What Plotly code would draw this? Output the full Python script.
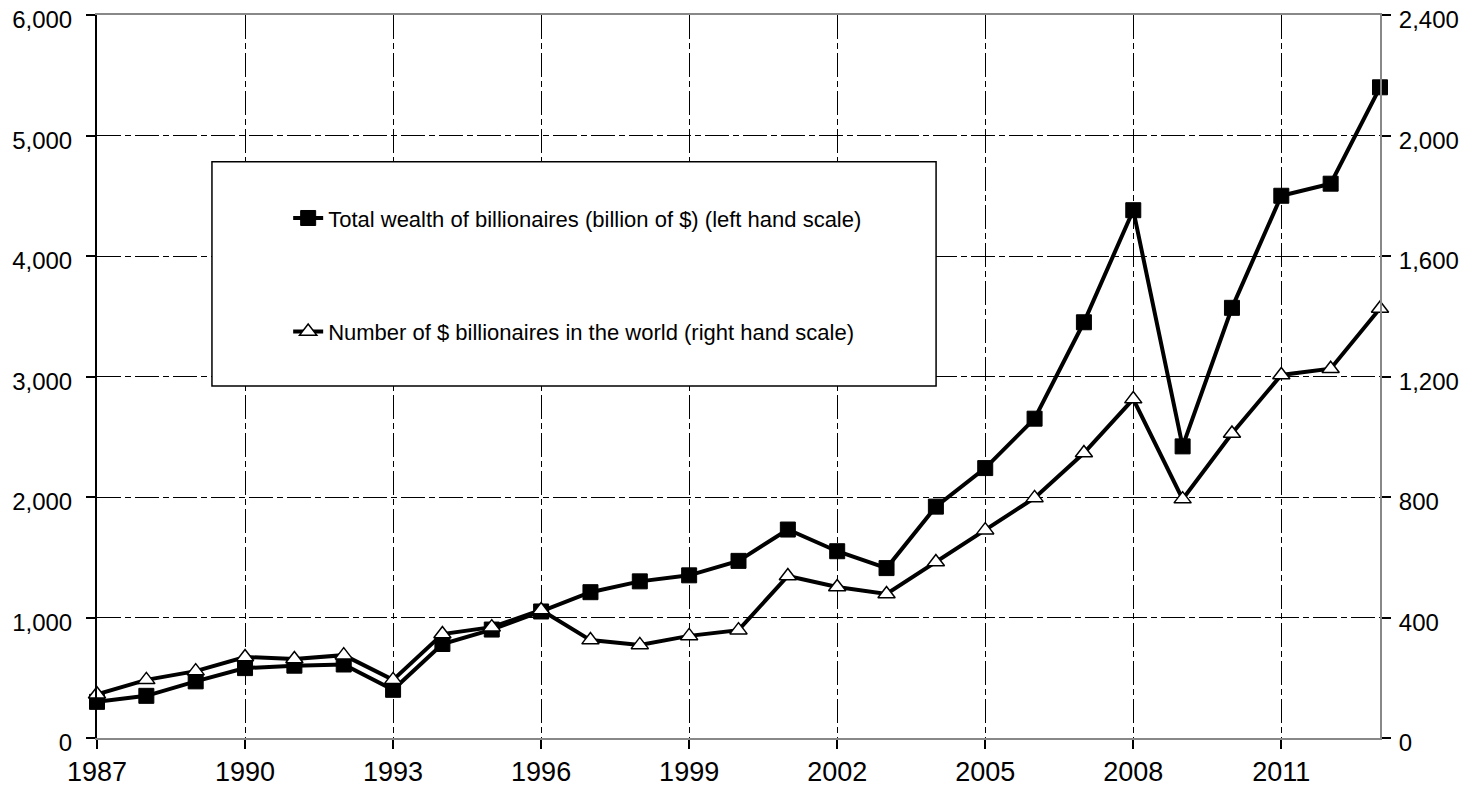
import plotly.graph_objects as go

years = list(range(1987, 2014))
wealth = [300, 350, 470, 580, 600, 610, 400, 780, 900, 1050, 1210, 1300, 1350, 1470,
          1730, 1550, 1410, 1920, 2240, 2650, 3450, 4380, 2420, 3570, 4500, 4600, 5400]
number = [145, 193, 222, 269, 262, 275, 193, 345, 368, 425, 325, 309, 339, 358,
          538, 501, 478, 584, 690, 797, 946, 1125, 793, 1011, 1205, 1226, 1426]

name_wealth = "Total wealth of billionaires (billion of $) (left hand scale)"
name_number = "Number of $ billionaires in the world (right hand scale)"

left_ticks = [0, 1000, 2000, 3000, 4000, 5000, 6000]
right_ticks = [0, 400, 800, 1200, 1600, 2000, 2400]
x_ticks = [1987, 1990, 1993, 1996, 1999, 2002, 2005, 2008, 2011]

FONT = "Liberation Sans, Arial, sans-serif"

fig = go.Figure()
fig.add_trace(go.Scatter(
    x=years, y=wealth, name=name_wealth, mode="lines+markers",
    line=dict(color="black", width=4),
    marker=dict(symbol="square", size=15, color="black", line=dict(color="black", width=1)),
    yaxis="y", legendgroup="a", cliponaxis=False,
))
fig.add_trace(go.Scatter(
    x=years, y=number, name=name_number, mode="lines+markers",
    line=dict(color="black", width=4),
    marker=dict(symbol="triangle-up", size=15, color="white", line=dict(color="black", width=1.5)),
    yaxis="y2", legendgroup="b", cliponaxis=False,
))

grid = dict(showgrid=True, gridcolor="black", gridwidth=1, griddash="24px,4px,6px,4px")

fig.update_layout(
    width=1474, height=786,
    margin=dict(l=89, r=102, t=7, b=56, autoexpand=False),
    paper_bgcolor="white", plot_bgcolor="white",
    font=dict(family=FONT, color="black"),
    showlegend=True,
    legend=dict(
        x=0.149, y=0.748, xanchor="left", yanchor="top",
        bgcolor="rgba(0,0,0,0)", borderwidth=0,
        font=dict(family=FONT, size=22, color="black"),
        tracegroupgap=82, traceorder="grouped", itemwidth=30,
    ),
    xaxis=dict(
        range=[1987, 2013], tickvals=x_ticks, ticktext=[str(v) for v in x_ticks],
        ticks="outside", ticklen=9, tickcolor="black", tickwidth=1.5,
        showline=True, linecolor="#888888", linewidth=2, mirror=True,
        tickfont=dict(size=27, family=FONT), automargin=False,
        zeroline=False, **grid,
    ),
    yaxis=dict(
        range=[0, 6000], tickvals=left_ticks, ticktext=[f"{v:,}" for v in left_ticks],
        ticks="outside", ticklen=9, tickcolor="black", tickwidth=1.5,
        showline=True, linecolor="black", linewidth=2,
        tickfont=dict(size=24, family=FONT), automargin=False, ticklabelstandoff=9,
        ticklabeloverflow="allow", ticklabelshift=5,
        zeroline=False, **grid,
    ),
    yaxis2=dict(
        range=[0, 2400], tickvals=right_ticks, ticktext=[f"{v:,}" for v in right_ticks],
        overlaying="y", side="right",
        ticks="outside", ticklen=9, tickcolor="black", tickwidth=1.5,
        showline=True, linecolor="#888888", linewidth=2,
        tickfont=dict(size=24, family=FONT), automargin=False, ticklabelstandoff=3,
        ticklabeloverflow="allow", ticklabelshift=5,
        showgrid=False, zeroline=False,
    ),
    shapes=[dict(
        type="rect", xref="paper", yref="paper",
        x0=0.0896, x1=0.654, y0=0.487, y1=0.797,
        line=dict(color="black", width=1.5), fillcolor="white", layer="above",
    )],
)

fig.write_html("out.html")
